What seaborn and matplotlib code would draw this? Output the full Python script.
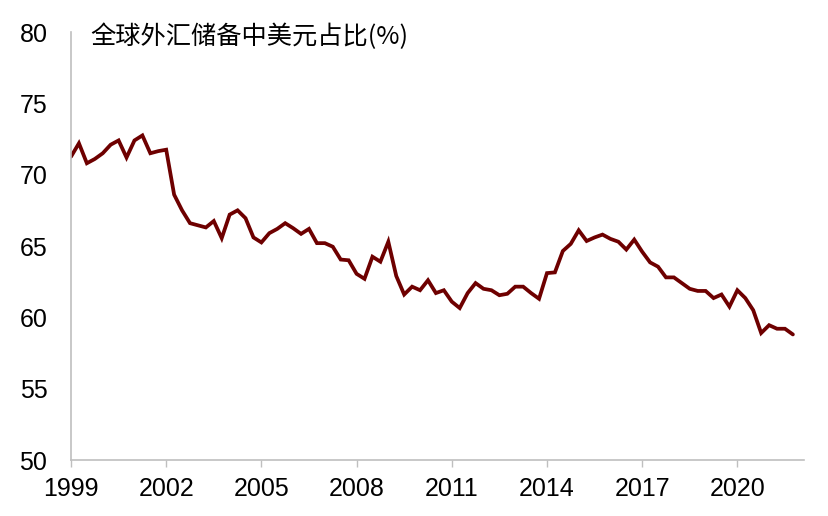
import numpy as np
import pandas as pd
import matplotlib
matplotlib.use("Agg")
import matplotlib.pyplot as plt
import seaborn as sns

# ---- data (quarterly, 1999Q1 - 2021Q4) ----
start_year = 1999
usd_share = [
    71.26, 72.2, 70.8, 71.1, 71.5, 72.1, 72.4, 71.2,
    72.4, 72.75, 71.5, 71.65, 71.75, 68.6, 67.5, 66.6,
    66.45, 66.3, 66.75, 65.55, 67.2, 67.5, 66.95, 65.6,
    65.25, 65.9, 66.2, 66.6, 66.25, 65.85, 66.2, 65.2,
    65.2, 64.95, 64.05, 64.0, 63.05, 62.7, 64.25, 63.9,
    65.3, 62.9, 61.6, 62.15, 61.9, 62.6, 61.7, 61.9,
    61.1, 60.65, 61.7, 62.4, 62.0, 61.9, 61.55, 61.65,
    62.15, 62.15, 61.7, 61.3, 63.1, 63.15, 64.65, 65.15,
    66.1, 65.35, 65.6, 65.8, 65.5, 65.3, 64.75, 65.45,
    64.6, 63.85, 63.55, 62.8, 62.8, 62.4, 62.0, 61.85,
    61.85, 61.35, 61.6, 60.75, 61.9, 61.35, 60.5, 58.9,
    59.45, 59.2, 59.2, 58.8,
]
time = [start_year + i * 0.25 for i in range(len(usd_share))]
x_ticks = [1999, 2002, 2005, 2008, 2011, 2014, 2017, 2020]
y_ticks = [50, 55, 60, 65, 70, 75, 80]
title_text = "全球外汇储备中美元占比(%)"

df = pd.DataFrame({"time": time, "share": usd_share})

sns.set_theme(style="white")
plt.rcParams["font.family"] = ["Liberation Sans", "Noto Sans CJK SC", "DejaVu Sans"]

fig = plt.figure(figsize=(8.29, 5.16), dpi=100)
ax = fig.add_axes([71 / 829, 56 / 516, 733 / 829, 428 / 516])

sns.lineplot(data=df, x="time", y="share", ax=ax, color="#6E0000",
             linewidth=2.7, solid_joinstyle="miter")

ax.set_xlim(1999, 2022.1)
ax.set_ylim(50, 80)
ax.set_xticks(x_ticks)
ax.set_xticklabels([str(t) for t in x_ticks])
ax.set_yticks(y_ticks)
ax.set_yticklabels([str(t) for t in y_ticks])
ax.set_xlabel("")
ax.set_ylabel("")

for s in ["top", "right"]:
    ax.spines[s].set_visible(False)
for s in ["left", "bottom"]:
    ax.spines[s].set_color("#BFBFBF")
    ax.spines[s].set_linewidth(1.2)

ax.tick_params(axis="x", direction="out", length=5, width=1.0, color="#BFBFBF",
               pad=7, labelsize=18, labelcolor="black", bottom=True)
ax.tick_params(axis="y", length=0, pad=17, labelsize=18, labelcolor="black", left=False)

ax.text((90 - 71) / 733, 0.988, title_text, transform=ax.transAxes,
        ha="left", va="center", fontsize=18.2,
        family=["Noto Sans CJK SC", "DejaVu Sans"], color="black")

fig.savefig("out.png", dpi=100)
